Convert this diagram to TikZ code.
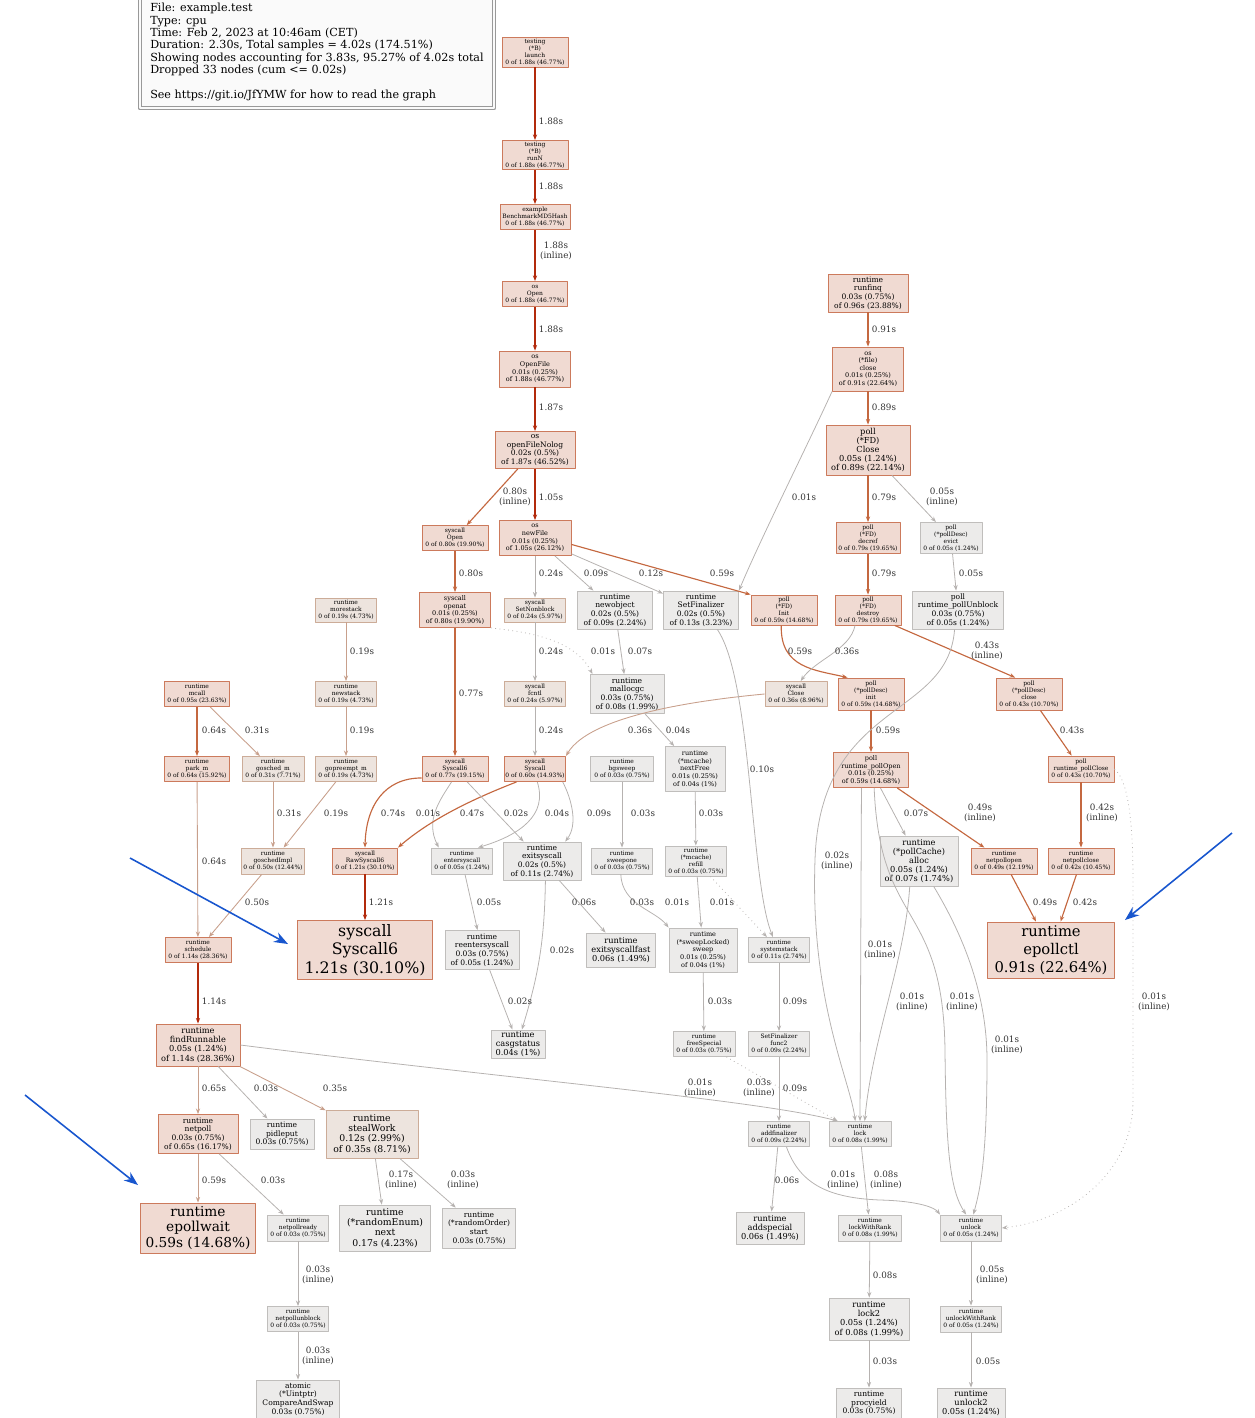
\documentclass[tikz,border=0pt]{standalone}
\usepackage{fontspec}
\setmainfont{DejaVu Serif}
\usetikzlibrary{arrows.meta}

\definecolor{hotfill}{RGB}{240,218,210}
\definecolor{hotline}{RGB}{204,122,92}
\definecolor{warmfill}{RGB}{237,228,222}
\definecolor{warmline}{RGB}{204,172,152}
\definecolor{coolfill}{RGB}{236,235,234}
\definecolor{coolline}{RGB}{192,190,188}
\definecolor{edgeA}{RGB}{178,42,12}
\definecolor{edgeB}{RGB}{196,104,64}
\definecolor{edgeC}{RGB}{200,160,140}
\definecolor{edgeD}{RGB}{182,178,176}
\definecolor{annot}{RGB}{24,86,206}

\begin{document}
\begin{tikzpicture}[
            x = 0.02cm, y = -0.02cm, % one unit is one pixel of the layout
            > = {Stealth[length=3.2pt, width=2.4pt]}, % arrow head style
            line join = round
        ]

        \tikzstyle{box}=[draw, rectangle, align=center, inner sep=0.3pt, line width=0.5pt]
        \tikzstyle{hot}=[box, fill=hotfill, draw=hotline]
        \tikzstyle{warm}=[box, fill=warmfill, draw=warmline]
        \tikzstyle{cool}=[box, fill=coolfill, draw=coolline]
        \tikzset{sz/.style 2 args={minimum width=#1*0.02cm, minimum height=#2*0.02cm}}
        \tikzstyle{txa}=[font=\fontsize{3.4}{4}\selectfont]
        \tikzstyle{txb}=[font=\fontsize{3.7}{4.3}\selectfont]
        \tikzstyle{txc}=[font=\fontsize{4.3}{4.9}\selectfont]
        \tikzstyle{txd}=[font=\fontsize{4.7}{5.2}\selectfont]
        \tikzstyle{txe}=[font=\fontsize{5.3}{5.9}\selectfont]
        \tikzstyle{lbl}=[font=\fontsize{5}{5.7}\selectfont, text=black!80, align=center, inner sep=0pt]
        \tikzstyle{ea}=[->, draw=edgeA, line width=1.2pt]
        \tikzstyle{eb}=[->, draw=edgeB, line width=0.65pt]
        \tikzstyle{ec}=[->, draw=edgeC, line width=0.5pt]
        \tikzstyle{ed}=[->, draw=edgeD, line width=0.45pt]
        \tikzstyle{note}=[-{Stealth[length=8pt, width=6pt]}, draw=annot, line width=0.9pt]

        \useasboundingbox (0,0) rectangle (1255,1418);

        % legend
        \node[draw=gray!80, line width=0.6pt, double=gray!4, double distance=1.6pt, fill=gray!4,
              sz={354}{112}, align=left, inner sep=0pt, font=\fontsize{6.35}{7.05}\selectfont] (legend) at (317,52)
            {File: example.test\\Type: cpu\\Time: Feb 2, 2023 at 10:46am (CET)\\
             Duration: 2.30s, Total samples = 4.02s (174.51\%)\\
             Showing nodes accounting for 3.83s, 95.27\% of 4.02s total\\
             Dropped 33 nodes (cum <= 0.02s)\\[7pt]
             See https://git.io/JfYMW for how to read the graph};

        % main chain
        \node[hot, txa, sz={66}{30}] (T1) at (535,52) {testing\\(*B)\\launch\\0 of 1.88s (46.77\%)};
        \node[hot, txa, sz={66}{29}] (T2) at (535,155) {testing\\(*B)\\runN\\0 of 1.88s (46.77\%)};
        \node[hot, txa, sz={70}{25}] (T3) at (535,217) {example\\BenchmarkMD5Hash\\0 of 1.88s (46.77\%)};
        \node[hot, txa, sz={65}{25}] (T4) at (535,294) {os\\Open\\0 of 1.88s (46.77\%)};
        \node[hot, txb, sz={71}{36}] (T5) at (535,369) {os\\OpenFile\\0.01s (0.25\%)\\of 1.88s (46.77\%)};
        \node[hot, txc, sz={80}{37}] (T6) at (535,450) {os\\openFileNolog\\0.02s (0.5\%)\\of 1.87s (46.52\%)};
        \node[hot, txa, sz={66}{25}] (T7) at (455,538) {syscall\\Open\\0 of 0.80s (19.90\%)};
        \node[hot, txb, sz={72}{35}] (T8) at (535,538) {os\\newFile\\0.01s (0.25\%)\\of 1.05s (26.12\%)};

        % close path
        \node[hot, txc, sz={80}{38}] (R1) at (868,293) {runtime\\runfinq\\0.03s (0.75\%)\\of 0.96s (23.88\%)};
        \node[hot, txb, sz={71}{44}] (R2) at (868,369) {os\\(*file)\\close\\0.01s (0.25\%)\\of 0.91s (22.64\%)};
        \node[hot, txd, sz={84}{50}] (R3) at (868,450) {poll\\(*FD)\\Close\\0.05s (1.24\%)\\of 0.89s (22.14\%)};
        \node[hot, txa, sz={64}{31}] (R4) at (868,538) {poll\\(*FD)\\decref\\0 of 0.79s (19.65\%)};
        \node[cool, txa, sz={62}{31}] (R5) at (951,538) {poll\\(*pollDesc)\\evict\\0 of 0.05s (1.24\%)};
        \node[hot, txa, sz={66}{30}] (R6) at (868,610) {poll\\(*FD)\\destroy\\0 of 0.79s (19.65\%)};
        \node[cool, txc, sz={91}{38}] (R7) at (958,610) {poll\\runtime\_pollUnblock\\0.03s (0.75\%)\\of 0.05s (1.24\%)};
        \node[hot, txa, sz={66}{32}] (R8) at (871,694) {poll\\(*pollDesc)\\init\\0 of 0.59s (14.68\%)};
        \node[hot, txa, sz={66}{32}] (R9) at (1029,694) {poll\\(*pollDesc)\\close\\0 of 0.43s (10.70\%)};
        \node[hot, txb, sz={75}{35}] (R10) at (871,770) {poll\\runtime\_pollOpen\\0.01s (0.25\%)\\of 0.59s (14.68\%)};
        \node[hot, txa, sz={66}{26}] (R11) at (1081,769) {poll\\runtime\_pollClose\\0 of 0.43s (10.70\%)};
        \node[cool, txd, sz={78}{50}] (R12) at (919,861) {runtime\\(*pollCache)\\alloc\\0.05s (1.24\%)\\of 0.07s (1.74\%)};
        \node[hot, txa, sz={66}{26}] (R13) at (1004,861) {runtime\\netpollopen\\0 of 0.49s (12.19\%)};
        \node[hot, txa, sz={66}{26}] (R14) at (1081,861) {runtime\\netpollclose\\0 of 0.42s (10.45\%)};
        \node[hot, sz={127}{56}, font=\fontsize{8.4}{10.2}\selectfont] (R15) at (1051,950) {runtime\\epollctl\\0.91s (22.64\%)};

        % syscalls and runtime
        \node[hot, txb, sz={71}{35}] (C1) at (455,610) {syscall\\openat\\0.01s (0.25\%)\\of 0.80s (19.90\%)};
        \node[warm, txa, sz={61}{24}] (C2) at (535,610) {syscall\\SetNonblock\\0 of 0.24s (5.97\%)};
        \node[cool, txc, sz={75}{38}] (C3) at (615,610) {runtime\\newobject\\0.02s (0.5\%)\\of 0.09s (2.24\%)};
        \node[cool, txc, sz={75}{38}] (C4) at (701,610) {runtime\\SetFinalizer\\0.02s (0.5\%)\\of 0.13s (3.23\%)};
        \node[hot, txa, sz={66}{30}] (C5) at (784,610) {poll\\(*FD)\\Init\\0 of 0.59s (14.68\%)};
        \node[warm, txa, sz={61}{25}] (C6) at (535,694) {syscall\\fcntl\\0 of 0.24s (5.97\%)};
        \node[cool, txc, sz={74}{39}] (C7) at (627,694) {runtime\\mallocgc\\0.03s (0.75\%)\\of 0.08s (1.99\%)};
        \node[warm, txa, sz={62}{25}] (C8) at (796,694) {syscall\\Close\\0 of 0.36s (8.96\%)};
        \node[hot, txa, sz={66}{25}] (C9) at (455,769) {syscall\\Syscall6\\0 of 0.77s (19.15\%)};
        \node[hot, txa, sz={61}{25}] (C10) at (535,769) {syscall\\Syscall\\0 of 0.60s (14.93\%)};
        \node[cool, txa, sz={63}{25}] (C11) at (622,769) {runtime\\bgsweep\\0 of 0.03s (0.75\%)};
        \node[cool, txb, sz={60}{45}] (C12) at (695,769) {runtime\\(*mcache)\\nextFree\\0.01s (0.25\%)\\of 0.04s (1\%)};
        \node[hot, txa, sz={65}{26}] (C13) at (365,861) {syscall\\RawSyscall6\\0 of 1.21s (30.10\%)};
        \node[cool, txa, sz={61}{26}] (C14) at (462,861) {runtime\\entersyscall\\0 of 0.05s (1.24\%)};
        \node[cool, txc, sz={78}{38}] (C15) at (542,861) {runtime\\exitsyscall\\0.02s (0.5\%)\\of 0.11s (2.74\%)};
        \node[cool, txa, sz={61}{26}] (C16) at (622,861) {runtime\\sweepone\\0 of 0.03s (0.75\%)};
        \node[cool, txa, sz={61}{30}] (C17) at (696,861) {runtime\\(*mcache)\\refill\\0 of 0.03s (0.75\%)};
        \node[hot, sz={135}{59}, font=\fontsize{9}{10.5}\selectfont] (C18) at (365,950) {syscall\\Syscall6\\1.21s (30.10\%)};
        \node[cool, txc, sz={74}{39}] (C19) at (482,950) {runtime\\reentersyscall\\0.03s (0.75\%)\\of 0.05s (1.24\%)};
        \node[cool, txd, sz={69}{34}] (C20) at (621,950) {runtime\\exitsyscallfast\\0.06s (1.49\%)};
        \node[cool, txb, sz={68}{44}] (C21) at (703,950) {runtime\\(*sweepLocked)\\sweep\\0.01s (0.25\%)\\of 0.04s (1\%)};
        \node[cool, txa, sz={61}{25}] (C22) at (779,950) {runtime\\systemstack\\0 of 0.11s (2.74\%)};
        \node[cool, txd, sz={54}{28}] (C23) at (518,1044) {runtime\\casgstatus\\0.04s (1\%)};
        \node[cool, txa, sz={62}{25}] (C24) at (704,1044) {runtime\\freeSpecial\\0 of 0.03s (0.75\%)};
        \node[cool, txa, sz={61}{25}] (C25) at (779,1044) {SetFinalizer\\func2\\0 of 0.09s (2.24\%)};
        \node[cool, txa, sz={61}{25}] (C26) at (779,1134) {runtime\\addfinalizer\\0 of 0.09s (2.24\%)};
        \node[cool, txa, sz={62}{25}] (C27) at (860,1134) {runtime\\lock\\0 of 0.08s (1.99\%)};
        \node[cool, txd, sz={68}{32}] (C28) at (770,1228) {runtime\\addspecial\\0.06s (1.49\%)};
        \node[cool, txa, sz={63}{26}] (C29) at (870,1228) {runtime\\lockWithRank\\0 of 0.08s (1.99\%)};
        \node[cool, txa, sz={61}{26}] (C30) at (971,1228) {runtime\\unlock\\0 of 0.05s (1.24\%)};
        \node[cool, txd, sz={80}{42}] (C31) at (869,1319) {runtime\\lock2\\0.05s (1.24\%)\\of 0.08s (1.99\%)};
        \node[cool, txa, sz={61}{26}] (C32) at (971,1319) {runtime\\unlockWithRank\\0 of 0.05s (1.24\%)};
        \node[cool, txc, sz={65}{30}] (C33) at (869,1403) {runtime\\procyield\\0.03s (0.75\%)};
        \node[cool, txd, sz={68}{30}] (C34) at (971,1403) {runtime\\unlock2\\0.05s (1.24\%)};
        \node[cool, txc, sz={83}{38}] (C35) at (298,1399) {atomic\\(*Uintptr)\\CompareAndSwap\\0.03s (0.75\%)};

        % scheduler side
        \node[warm, txa, sz={61}{24}] (L1) at (346,610) {runtime\\morestack\\0 of 0.19s (4.73\%)};
        \node[warm, txa, sz={61}{25}] (L2) at (346,694) {runtime\\newstack\\0 of 0.19s (4.73\%)};
        \node[hot, txa, sz={65}{25}] (L3) at (197,694) {runtime\\mcall\\0 of 0.95s (23.63\%)};
        \node[hot, txa, sz={65}{25}] (L4) at (197,769) {runtime\\park\_m\\0 of 0.64s (15.92\%)};
        \node[warm, txa, sz={62}{25}] (L5) at (273,769) {runtime\\gosched\_m\\0 of 0.31s (7.71\%)};
        \node[warm, txa, sz={61}{25}] (L6) at (346,769) {runtime\\gopreempt\_m\\0 of 0.19s (4.73\%)};
        \node[warm, txa, sz={63}{26}] (L7) at (273,861) {runtime\\goschedImpl\\0 of 0.50s (12.44\%)};
        \node[hot, txa, sz={66}{25}] (L8) at (198,950) {runtime\\schedule\\0 of 1.14s (28.36\%)};
        \node[hot, txd, sz={84}{42}] (L9) at (198,1045) {runtime\\findRunnable\\0.05s (1.24\%)\\of 1.14s (28.36\%)};
        \node[hot, txc, sz={80}{39}] (L10) at (198,1134) {runtime\\netpoll\\0.03s (0.75\%)\\of 0.65s (16.17\%)};
        \node[cool, txc, sz={64}{30}] (L11) at (282,1134) {runtime\\pidleput\\0.03s (0.75\%)};
        \node[warm, txe, sz={92}{48}] (L12) at (372,1134) {runtime\\stealWork\\0.12s (2.99\%)\\of 0.35s (8.71\%)};
        \node[hot, sz={115}{50}, font=\fontsize{7.8}{8.8}\selectfont] (L13) at (198,1228) {runtime\\epollwait\\0.59s (14.68\%)};
        \node[cool, txa, sz={61}{26}] (L14) at (298,1228) {runtime\\netpollready\\0 of 0.03s (0.75\%)};
        \node[cool, txe, sz={91}{46}] (L15) at (385,1228) {runtime\\(*randomEnum)\\next\\0.17s (4.23\%)};
        \node[cool, txc, sz={73}{40}] (L16) at (479,1228) {runtime\\(*randomOrder)\\start\\0.03s (0.75\%)};
        \node[cool, txa, sz={61}{25}] (L17) at (298,1319) {runtime\\netpollunblock\\0 of 0.03s (0.75\%)};

        % edges: main chain
        \draw[ea] (T1) -- (T2);  \node[lbl] (lT1T2) at (551,121) {1.88s};
        \draw[ea] (T2) -- (T3);  \node[lbl] (lT2T3) at (551,186) {1.88s};
        \draw[ea] (T3) -- (T4);  \node[lbl] (lT3T4) at (556,251) {1.88s\\(inline)};
        \draw[ea] (T4) -- (T5);  \node[lbl] (lT4T5) at (551,329) {1.88s};
        \draw[ea] (T5) -- (T6);  \node[lbl] (lT5T6) at (551,407) {1.87s};
        \draw[eb] (T6) -- (T7);  \node[lbl] (lT6T7) at (515,497) {0.80s\\(inline)};
        \draw[ea] (T6) -- (T8);  \node[lbl] (lT6T8) at (551,497) {1.05s};
        \draw[eb] (T7) -- (C1);  \node[lbl] (lT7C1) at (471,573) {0.80s};
        \draw[ed] (T8) -- (C2);  \node[lbl] (lT8C2) at (551,573) {0.24s};
        \draw[ed] (T8) -- (C3);  \node[lbl] (lT8C3) at (596,573) {0.09s};
        \draw[ed] (T8) -- (C4);  \node[lbl] (lT8C4) at (651,573) {0.12s};
        \draw[eb] (T8.-10) -- (C5.north west);  \node[lbl] (lT8C5) at (722,573) {0.59s};

        % edges: close path
        \draw[eb] (R1) -- (R2);  \node[lbl] (lR1R2) at (884,329) {0.91s};
        \draw[eb] (R2) -- (R3);  \node[lbl] (lR2R3) at (884,407) {0.89s};
        \draw[ed] (R2.south west) .. controls (810,440) and (760,540) .. (C4.north east);
        \node[lbl] (lR2C4) at (804,497) {0.01s};
        \draw[eb] (R3) -- (R4);  \node[lbl] (lR3R4) at (884,497) {0.79s};
        \draw[ed] (R3) -- (R5);  \node[lbl] (lR3R5) at (942,497) {0.05s\\(inline)};
        \draw[eb] (R4) -- (R6);  \node[lbl] (lR4R6) at (884,573) {0.79s};
        \draw[ed] (R5) -- (R7);  \node[lbl] (lR5R7) at (971,573) {0.05s};
        \draw[eb] (C5.-100) .. controls (780,668) and (815,670) .. (R8.145);
        \node[lbl] (lC5R8) at (800,651) {0.59s};
        \draw[ed] (R6.-130) .. controls (850,650) and (815,660) .. (C8.70);
        \node[lbl] (lR6C8) at (847,651) {0.36s};
        \draw[eb] (R6.-30) -- (R9.130);  \node[lbl] (lR6R9) at (987,651) {0.43s\\(inline)};
        \draw[eb] (R8) -- (R10);  \node[lbl] (lR8R10) at (888,730) {0.59s};
        \draw[eb] (R9) -- (R11);  \node[lbl] (lR9R11) at (1072,730) {0.43s};
        \draw[ed] (R10) -- (R12);  \node[lbl] (lR10R12) at (916,813) {0.07s};
        \draw[eb] (R10) -- (R13);  \node[lbl] (lR10R13) at (980,813) {0.49s\\(inline)};
        \draw[eb] (R11) -- (R14);  \node[lbl] (lR11R14) at (1102,813) {0.42s\\(inline)};
        \draw[eb] (R13) -- (R15);  \node[lbl] (lR13R15) at (1045,902) {0.49s};
        \draw[eb] (R14) -- (R15);  \node[lbl] (lR14R15) at (1085,902) {0.42s};

        % edges: syscall block
        \draw[eb] (C1) -- (C9);  \node[lbl] (lC1C9) at (471,693) {0.77s};
        \draw[ed, dotted] (C1.south east) .. controls (530,632) and (575,640) .. (C7.150);
        \node[lbl] (lC1C7) at (603,651) {0.01s};
        \draw[ed] (C2) -- (C6);  \node[lbl] (lC2C6) at (551,651) {0.24s};
        \draw[ed] (C3) -- (C7);  \node[lbl] (lC3C7) at (640,651) {0.07s};
        \draw[ed] (C6) -- (C10);  \node[lbl] (lC6C10) at (551,730) {0.24s};
        \draw[ec] (C8.west) .. controls (700,700) and (590,715) .. (C10.north east);
        \node[lbl] (lC8C10) at (640,730) {0.36s};
        \draw[ed] (C7) -- (C12);  \node[lbl] (lC7C12) at (678,730) {0.04s};
        \draw[ed] (C4.-50) .. controls (752,680) and (750,880) .. (C22.115);
        \node[lbl] (lC4C22) at (762,769) {0.10s};
        \draw[eb] (C9.-165) .. controls (385,778) and (366,805) .. (C13.north);
        \node[lbl] (lC9C13) at (393,813) {0.74s};
        \draw[ed] (C9.-105) .. controls (440,800) and (425,820) .. (C14.150);
        \node[lbl] (lC9C14) at (428,813) {0.01s};
        \draw[eb] (C10.-145) .. controls (470,800) and (430,820) .. (C13.north east);
        \node[lbl] (lC10C13) at (472,813) {0.47s};
        \draw[ed] (C9) -- (C15);  \node[lbl] (lC9C15) at (516,813) {0.02s};
        \draw[ed] (C10.-80) .. controls (548,815) and (520,835) .. (C14.40);
        \node[lbl] (lC10C14) at (557,813) {0.04s};
        \draw[ed] (C10.-25) .. controls (572,800) and (578,825) .. (C15.40);
        \node[lbl] (lC10C15) at (599,813) {0.09s};
        \draw[ed] (C11) -- (C16);  \node[lbl] (lC11C16) at (643,813) {0.03s};
        \draw[ed] (C12) -- (C17);  \node[lbl] (lC12C17) at (711,813) {0.03s};
        \draw[ea] (C13) -- (C18);  \node[lbl] (lC13C18) at (381,902) {1.21s};
        \draw[ed] (C14) -- (C19);  \node[lbl] (lC14C19) at (489,902) {0.05s};
        \draw[ed] (C15) -- (C20);  \node[lbl] (lC15C20) at (584,902) {0.06s};
        \draw[ed] (C16.-95) .. controls (622,905) and (655,910) .. (C21.north west);
        \node[lbl] (lC16C21) at (642,902) {0.03s};
        \draw[ed] (C17) -- (C21);  \node[lbl] (lC17C21) at (677,902) {0.01s};
        \draw[ed, dotted] (C17) -- (C22);  \node[lbl] (lC17C22) at (722,902) {0.01s};
        \draw[ed] (C15.-80) to[bend left=8] (C23.75);
        \node[lbl] (lC15C23) at (562,950) {0.02s};
        \draw[ed] (C19) -- (C23);  \node[lbl] (lC19C23) at (520,1001) {0.02s};
        \draw[ed] (C21) -- (C24);  \node[lbl] (lC21C24) at (720,1001) {0.03s};
        \draw[ed] (C22) -- (C25);  \node[lbl] (lC22C25) at (795,1001) {0.09s};
        \draw[ed] (C25) -- (C26);  \node[lbl] (lC25C26) at (795,1088) {0.09s};
        \draw[ed, dotted] (C24) -- (C27.150);  \node[lbl] (lC24C27) at (759,1088) {0.03s\\(inline)};

        % edges: lock and unlock
        \draw[ed] (R7.-100) .. controls (948,720) and (820,700) .. (815,860)
                  .. controls (810,1000) and (850,1080) .. (C27.110);
        \node[lbl] (lR7C27) at (837,861) {0.02s\\(inline)};
        \draw[ed] (R10.-118) -- (C27.north);  \node[lbl] (lR10C27) at (880,950) {0.01s\\(inline)};
        \draw[ed] (R12.-110) .. controls (905,960) and (872,1040) .. (C27.70);
        \node[lbl] (lR12C27) at (912,1002) {0.01s\\(inline)};
        \draw[ed] (R10.-80) .. controls (880,930) and (943,900) .. (945,1050)
                  .. controls (946,1150) and (950,1190) .. (C30.110);
        \node[lbl] (lR10C30) at (962,1002) {0.01s\\(inline)};
        \draw[ed] (R12.-60) .. controls (960,930) and (987,990) .. (987,1060)
                  .. controls (987,1160) and (980,1190) .. (C30.80);
        \node[lbl] (lR12C30) at (1007,1045) {0.01s\\(inline)};
        \draw[ed, dotted] (R11.east) .. controls (1128,780) and (1133,820) .. (1133,880)
                  -- (1133,1100) .. controls (1133,1180) and (1060,1222) .. (C30.east);
        \node[lbl] (lR11C30) at (1154,1002) {0.01s\\(inline)};
        \draw[ed] (C26) -- (C28);  \node[lbl] (lC26C28) at (787,1180) {0.06s};
        \draw[ed] (C26.-60) .. controls (800,1185) and (830,1198) .. (880,1200)
                  .. controls (920,1201) and (935,1208) .. (C30.north west);
        \node[lbl] (lC26C30) at (843,1180) {0.01s\\(inline)};
        \draw[ed] (C27) -- (C29);  \node[lbl] (lC27C29) at (886,1180) {0.08s\\(inline)};
        \draw[ed] (C29) -- (C31);  \node[lbl] (lC29C31) at (885,1275) {0.08s};
        \draw[ed] (C31) -- (C33);  \node[lbl] (lC31C33) at (885,1361) {0.03s};
        \draw[ed] (C30) -- (C32);  \node[lbl] (lC30C32) at (992,1275) {0.05s\\(inline)};
        \draw[ed] (C32) -- (C34);  \node[lbl] (lC32C34) at (988,1361) {0.05s};

        % edges: scheduler side
        \draw[ec] (L1) -- (L2);  \node[lbl] (lL1L2) at (362,651) {0.19s};
        \draw[ec] (L2) -- (L6);  \node[lbl] (lL2L6) at (362,730) {0.19s};
        \draw[eb] (L3) -- (L4);  \node[lbl] (lL3L4) at (214,730) {0.64s};
        \draw[ec] (L3) -- (L5);  \node[lbl] (lL3L5) at (257,730) {0.31s};
        \draw[ec] (L5) -- (L7);  \node[lbl] (lL5L7) at (289,813) {0.31s};
        \draw[ec] (L6) -- (L7);  \node[lbl] (lL6L7) at (336,813) {0.19s};
        \draw[ec] (L4) -- (L8);  \node[lbl] (lL4L8) at (214,861) {0.64s};
        \draw[ec] (L7) -- (L8);  \node[lbl] (lL7L8) at (257,902) {0.50s};
        \draw[ea] (L8) -- (L9);  \node[lbl] (lL8L9) at (214,1001) {1.14s};
        \draw[ec] (L9) -- (L10);  \node[lbl] (lL9L10) at (214,1088) {0.65s};
        \draw[ed] (L9) -- (L11);  \node[lbl] (lL9L11) at (266,1088) {0.03s};
        \draw[ec] (L9) -- (L12);  \node[lbl] (lL9L12) at (335,1088) {0.35s};
        \draw[ed] (L9.east) .. controls (500,1078) and (760,1100) .. (C27.150);
        \node[lbl] (lL9C27) at (700,1088) {0.01s\\(inline)};
        \draw[ec] (L10) -- (L13);  \node[lbl] (lL10L13) at (214,1180) {0.59s};
        \draw[ed] (L10) -- (L14);  \node[lbl] (lL10L14) at (273,1180) {0.03s};
        \draw[ed] (L12) -- (L15);  \node[lbl] (lL12L15) at (401,1180) {0.17s\\(inline)};
        \draw[ed] (L12) -- (L16);  \node[lbl] (lL12L16) at (463,1180) {0.03s\\(inline)};
        \draw[ed] (L14) -- (L17);  \node[lbl] (lL14L17) at (318,1275) {0.03s\\(inline)};
        \draw[ed] (L17) -- (C35);  \node[lbl] (lL17C35) at (318,1356) {0.03s\\(inline)};

        % pointers to the hot leaves
        \coordinate (n1a) at (130,858);  \coordinate (n1b) at (288,944);
        \coordinate (n2a) at (1232,833); \coordinate (n2b) at (1125,920);
        \coordinate (n3a) at (25,1095);  \coordinate (n3b) at (138,1185);
        \draw[note] (n1a) -- (n1b);
        \draw[note] (n2a) -- (n2b);
        \draw[note] (n3a) -- (n3b);

  \end{tikzpicture}
\end{document}
